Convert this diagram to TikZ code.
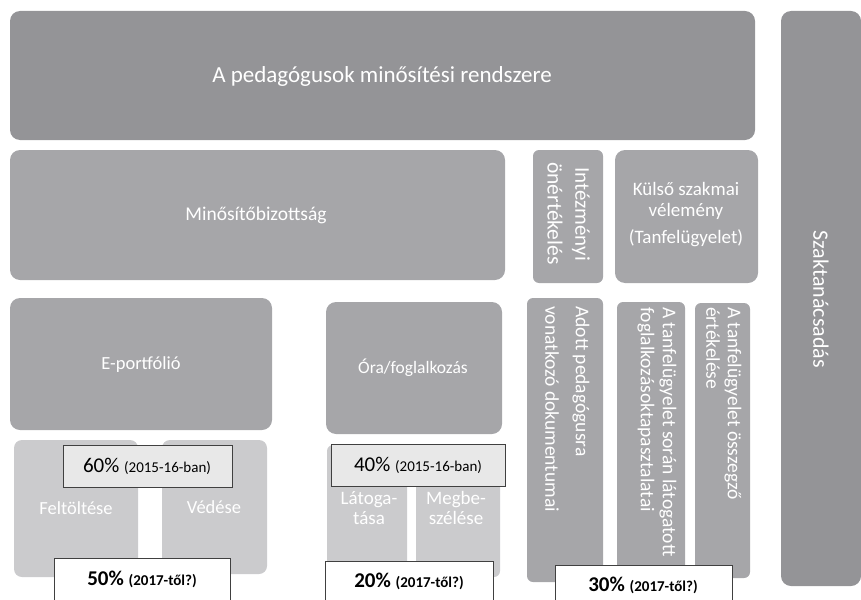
\documentclass[tikz,border=0pt]{standalone}
\usepackage{fontspec}
\setmainfont{Carlito}
\definecolor{gdark}{RGB}{148,148,151}
\definecolor{gmid}{RGB}{166,166,169}
\definecolor{glight}{RGB}{203,203,205}
\definecolor{pfill}{RGB}{232,232,232}
\begin{document}
\begin{tikzpicture}[x=1pt,y=-1pt,
  pbox/.style={draw=black!75,line width=0.8pt,fill=#1,text=black},
  tfs/.style 2 args={font=\fontsize{#1}{#2}\selectfont},
  vline/.style={text=white,font=\fontsize{19.5}{24}\selectfont,rotate=-90,anchor=west,inner sep=0pt}]
\useasboundingbox (0,0) rectangle (861,599);
% top
\fill[gdark,rounded corners=10pt] (10,11) rectangle (755,140);
\node[text=white,tfs={23}{27}] (title) at (382,76) {A pedagógusok minősítési rendszere};
\fill[gdark,rounded corners=10pt] (781,11) rectangle (861,586);
\node[text=white,tfs={22}{26},rotate=-90] (szak) at (821,299) {Szaktanácsadás};
% second row
\fill[gmid,rounded corners=10pt] (10,150) rectangle (505,280);
\node[text=white,tfs={19.5}{23}] (minb) at (256,215) {Minősítőbizottság};
\fill[gmid,rounded corners=6pt] (533,150) rectangle (603,283);
\node[vline,font=\fontsize{21}{26}\selectfont] (intez1) at (581,167) {Intézményi};
\node[vline,font=\fontsize{21.5}{26}\selectfont] (intez2) at (555,162) {önértékelés};
\fill[gmid,rounded corners=10pt] (615,150) rectangle (758,283);
\node[text=white,tfs={19}{21},align=center] (kulso) at (686,215) {Külső szakmai\\vélemény\\[6pt](Tanfelügyelet)};
% third row
\fill[gmid,rounded corners=10pt] (10,298) rectangle (272,430);
\node[text=white,tfs={18.5}{22}] (eport) at (141,365) {E-portfólió};
\fill[gmid,rounded corners=10pt] (326,302) rectangle (502,434);
\node[text=white,tfs={17.5}{21}] (ora) at (413,368) {Óra/foglalkozás};
% light boxes
\fill[glight,rounded corners=8pt] (14,440) rectangle (138,577);
\node[text=white,tfs={18.5}{20}] (felt) at (76,508) {Feltöltése};
\fill[glight,rounded corners=8pt] (162,440) rectangle (267,574);
\node[text=white,tfs={18.5}{20}] (ved) at (214,507) {Védése};
\fill[glight,rounded corners=6pt] (327,445) rectangle (407,577);
\node[text=white,tfs={19}{20},align=center] (lat) at (369,508) {Látoga-\\tása};
\fill[glight,rounded corners=6pt] (416,445) rectangle (500,577);
\node[text=white,tfs={19}{20},align=center] (megb) at (456,508) {Megbe-\\szélése};
% vertical boxes
\fill[gmid,rounded corners=6pt] (527,298) rectangle (603,582);
\node[vline] (adott1) at (581,306) {Adott pedagógusra};
\node[vline] (adott2) at (552,306) {vonatkozó dokumentumai};
\fill[gmid,rounded corners=6pt] (617,302) rectangle (685,575);
\node[vline] (sor1) at (668,307) {A tanfelügyelet során látogatott};
\node[vline] (sor2) at (646,307) {foglalkozásoktapasztalatai};
\fill[gmid,rounded corners=6pt] (695,303) rectangle (750,578);
\node[vline] (ossz1) at (733,307) {A tanfelügyelet összegző};
\node[vline] (ossz2) at (713,307) {értékelése};
% percent boxes
\draw[pbox=pfill] (63,445) rectangle (232,487);
\node[tfs={21}{24}] (p60) at (147,466) {60\% {\fontsize{15}{17}\selectfont(2015-16-ban)}};
\draw[pbox=pfill] (331,444) rectangle (505,486);
\node[tfs={21}{24}] (p40) at (418,465) {40\% {\fontsize{15}{17}\selectfont(2015-16-ban)}};
\draw[pbox=white] (54,558) rectangle (230,605);
\node[font=\bfseries\fontsize{21}{24}\selectfont] (p50) at (142,579) {50\% {\fontsize{15}{17}\selectfont(2017-től?)}};
\draw[pbox=white] (325,561) rectangle (493,605);
\node[font=\bfseries\fontsize{21}{24}\selectfont] (p20) at (409,581) {20\% {\fontsize{15}{17}\selectfont(2017-től?)}};
\draw[pbox=white] (555,565) rectangle (732,605);
\node[font=\bfseries\fontsize{21}{24}\selectfont] (p30) at (643,585) {30\% {\fontsize{15}{17}\selectfont(2017-től?)}};
\end{tikzpicture}
\end{document}
